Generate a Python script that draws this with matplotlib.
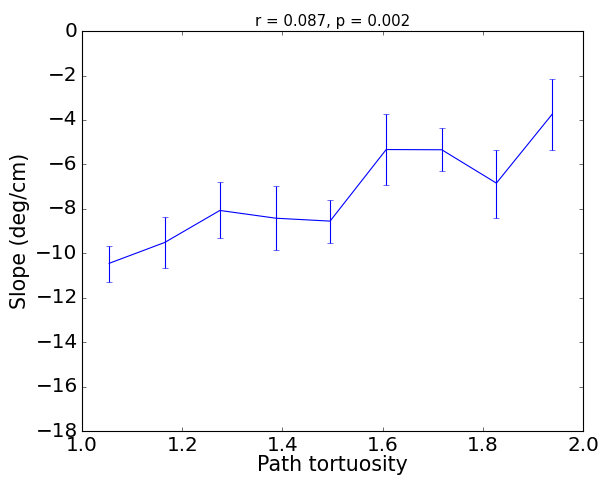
import numpy as np
import matplotlib
matplotlib.use('Agg')
import matplotlib.pyplot as plt

plt.style.use('classic')

# mean slope per tortuosity bin, with error bar ends
tortuosity = [1.054, 1.165, 1.275, 1.387, 1.495, 1.607, 1.718, 1.827, 1.938]
slope = [-10.45, -9.51, -8.07, -8.42, -8.55, -5.33, -5.34, -6.84, -3.75]
err_top = [-9.65, -8.37, -6.80, -6.99, -7.62, -3.71, -4.35, -5.33, -2.16]
err_bottom = [-11.30, -10.65, -9.33, -9.83, -9.54, -6.92, -6.30, -8.40, -5.33]

slope = np.array(slope)
yerr = [slope - np.array(err_bottom), np.array(err_top) - slope]

fig = plt.figure(figsize=(7.6, 5.975), dpi=80)
ax = fig.add_axes([0.135, 0.098, 0.824, 0.837])

ax.errorbar(tortuosity, slope, yerr=yerr, color='b', ecolor='b', capsize=3,
            elinewidth=1.0, lw=1.0)

ax.set_xlim(1.0, 2.0)
ax.set_ylim(-18, 0)
ax.set_xticks(np.arange(1.0, 2.01, 0.2))
ax.set_yticks(np.arange(-18, 1, 2))
ax.tick_params(labelsize=18)

ax.set_xlabel('Path tortuosity', fontsize=18.5, labelpad=0)
ax.set_ylabel('Slope (deg/cm)', fontsize=18.5)
ax.set_title('r = 0.087, p = 0.002', fontsize=13.5)

fig.savefig('out.png', dpi=80, facecolor='white')
